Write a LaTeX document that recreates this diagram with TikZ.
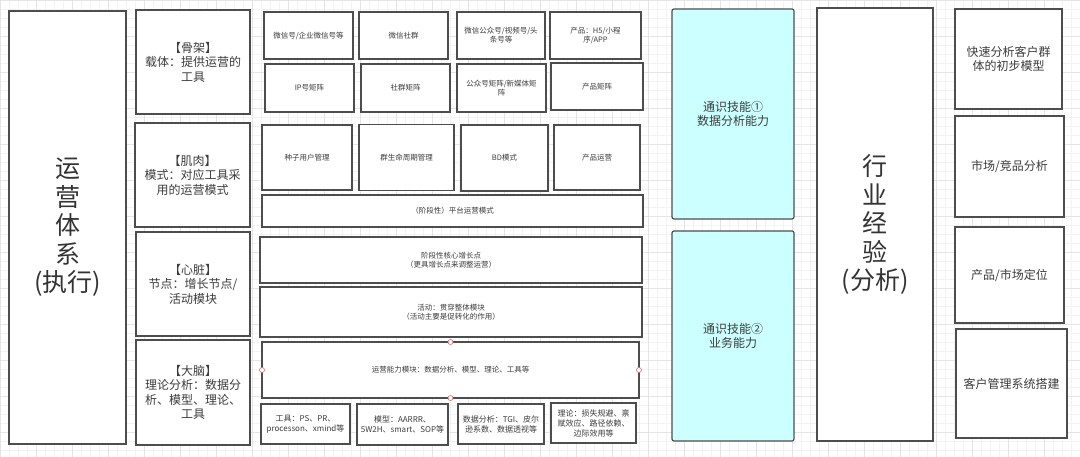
\documentclass[tikz,border=0pt]{standalone}
\usepackage{fontspec}
\newfontfamily\cjk{Noto Sans CJK SC}
\usetikzlibrary{backgrounds}

\definecolor{linegray}{HTML}{4D4D4D}
\definecolor{textgray}{HTML}{3C3C3C}
\definecolor{skillcyan}{HTML}{CCFFFF}
\definecolor{gridminor}{HTML}{F3F3F3}
\definecolor{gridmajor}{HTML}{E4E4E4}
\definecolor{handlered}{HTML}{D06A6A}

\begin{document}
\begin{tikzpicture}[
    x=1pt, y=-1pt,
    font=\cjk\fontsize{12}{14.5}\selectfont,
    block/.style={
        draw=linegray,
        line width=1.2pt,
        fill=white,
        align=center,
        text=textgray,
        inner sep=2pt,
        outer sep=0pt
    },
    pillar/.style={
        block,
        font=\cjk\fontsize{25}{28.5}\selectfont,
        text=black!80
    },
    part/.style={
        block
    },
    item/.style={
        block,
        font=\cjk\fontsize{7.5}{9}\selectfont
    },
    tool/.style={
        block,
        font=\cjk\fontsize{8}{10}\selectfont
    },
    skill/.style={
        block,
        fill=skillcyan,
        rounded corners=2pt
    },
    handle/.style={
        circle,
        draw=handlered,
        fill=white,
        line width=0.6pt,
        inner sep=0pt,
        minimum size=5pt
    }
]

% ---------------------------------------------------------
% Canvas and grid
% ---------------------------------------------------------
\path[use as bounding box] (0,0) rectangle (1080,457);
\fill[white] (0,0) rectangle (1080,457);
\foreach \gx in {0,9,...,1080}
    \draw[gridminor, line width=0.5pt] (\gx,0) -- (\gx,457);
\foreach \gy in {0,9,...,457}
    \draw[gridminor, line width=0.5pt] (0,\gy) -- (1080,\gy);
\foreach \gx in {0,36,...,1080}
    \draw[gridmajor, line width=0.5pt] (\gx,0) -- (\gx,457);
\foreach \gy in {0,36,...,457}
    \draw[gridmajor, line width=0.5pt] (0,\gy) -- (1080,\gy);

% ---------------------------------------------------------
% Operation system (execution)
% ---------------------------------------------------------
\node[pillar, minimum width=117pt, minimum height=433pt]
    (sys) at (67.5,227.5) {运\\营\\体\\系\\(执行)};

\node[part, minimum width=114pt, minimum height=104pt]
    (frame) at (193,62) {【骨架】\\载体：提供运营的\\工具};
\node[part, minimum width=115pt, minimum height=104pt]
    (muscle) at (192.5,175) {【肌肉】\\模式：对应工具采\\用的运营模式};
\node[part, minimum width=114pt, minimum height=104pt]
    (heart) at (193,284) {【心脏】\\节点：增长节点/\\活动模块};
\node[part, minimum width=114pt, minimum height=105pt]
    (brain) at (193,392.5) {【大脑】\\理论分析：数据分\\析、模型、理论、\\工具};

% carriers
\node[item, minimum width=89pt, minimum height=47pt]
    (wxid) at (308.5,35.5) {微信号/企业微信号等};
\node[item, minimum width=89pt, minimum height=47pt]
    (wxgroup) at (403.5,35.5) {微信社群};
\node[item, minimum width=88pt, minimum height=47pt]
    (media) at (501,35.5) {微信公众号/视频号/头\\条号等};
\node[item, minimum width=91pt, minimum height=47pt]
    (product) at (595.5,35.5) {产品：H5/小程\\序/APP};

\node[item, minimum width=89pt, minimum height=48pt]
    (ipmatrix) at (309.5,88) {IP号矩阵};
\node[item, minimum width=89pt, minimum height=48pt]
    (groupmatrix) at (405.5,88) {社群矩阵};
\node[item, minimum width=89pt, minimum height=48pt]
    (mediamatrix) at (501.5,88) {公众号矩阵/新媒体矩\\阵};
\node[item, minimum width=92pt, minimum height=47pt]
    (productmatrix) at (597,86.5) {产品矩阵};

% modes
\node[item, minimum width=90pt, minimum height=65pt]
    (seed) at (307,157.5) {种子用户管理};
\node[item, minimum width=95pt, minimum height=66pt]
    (lifecycle) at (406.5,157.5) {群生命周期管理};
\node[item, minimum width=87pt, minimum height=66pt]
    (bd) at (504.5,158) {BD模式};
\node[item, minimum width=86pt, minimum height=65pt]
    (prodops) at (597,157.5) {产品运营};
\node[item, minimum width=381pt, minimum height=32pt]
    (platform) at (452.5,211) {（阶段性）平台运营模式};

% growth nodes
\node[item, minimum width=382pt, minimum height=46pt]
    (growth) at (451,260) {阶段性核心增长点\\（更具增长点来调整运营）};
\node[item, minimum width=382pt, minimum height=50pt]
    (activity) at (451,312) {活动：贯穿整体模块\\（活动主要是促转化的作用）};

% abilities
\node[item, minimum width=377pt, minimum height=56pt]
    (ability) at (450.5,370) {运营能力模块：数据分析、模型、理论、工具等};
\node[handle] (ability-n) at (ability.north) {};
\node[handle] (ability-s) at (ability.south) {};
\node[handle] (ability-w) at (ability.west) {};
\node[handle] (ability-e) at (ability.east) {};

\node[tool, minimum width=89pt, minimum height=40pt]
    (tools) at (305.5,424) {工具：PS、PR、\\processon、xmind等};
\node[tool, minimum width=91pt, minimum height=41pt]
    (models) at (402.5,424.5) {模型：AARRR、\\5W2H、smart、SOP等};
\node[tool, minimum width=86pt, minimum height=40pt]
    (analysis) at (501,424) {数据分析：TGI、皮尔\\逊系数、数据透视等};
\node[tool, minimum width=85pt, minimum height=40pt]
    (theory) at (593.5,423) {理论：损失规避、禀\\赋效应、路径依赖、\\边际效用等};

% ---------------------------------------------------------
% General skills
% ---------------------------------------------------------
\node[skill, minimum width=122pt, minimum height=210pt]
    (skilldata) at (733,114) {通识技能①\\数据分析能力};
\node[skill, minimum width=122pt, minimum height=210pt]
    (skillbiz) at (733,336) {通识技能②\\业务能力};

% ---------------------------------------------------------
% Industry experience (analysis)
% ---------------------------------------------------------
\node[pillar, minimum width=116pt, minimum height=433pt]
    (industry) at (875,224.5) {行\\业\\经\\验\\(分析)};

\node[part, minimum width=107pt, minimum height=100pt]
    (customer) at (1008.5,59) {快速分析客户群\\体的初步模型};
\node[part, minimum width=109pt, minimum height=101pt]
    (market) at (1009.5,166.5) {市场/竞品分析};
\node[part, minimum width=109pt, minimum height=96pt]
    (position) at (1009.5,275) {产品/市场定位};
\node[part, minimum width=111pt, minimum height=109pt]
    (crm) at (1011.5,383.5) {客户管理系统搭建};

\end{tikzpicture}
\end{document}
